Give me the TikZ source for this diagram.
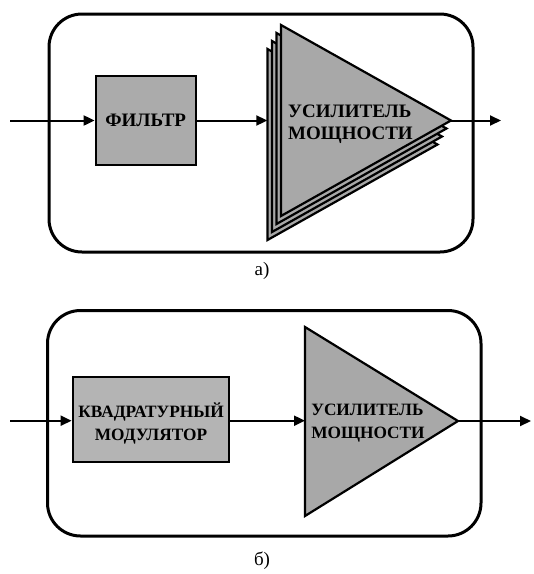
\documentclass[tikz,border=0pt]{standalone}
\usepackage{fontspec}
\setmainfont{Liberation Serif}[BoldFont={Liberation Serif Bold}]
\usetikzlibrary{arrows.meta}
\definecolor{blockgray}{HTML}{ABABAB}
\definecolor{modgray}{HTML}{B4B4B4}
\definecolor{ampgray}{HTML}{A8A8A8}
\begin{document}
\begin{tikzpicture}[x=1pt,y=-1pt,
  frame/.style={line width=3pt, rounded corners=33pt},
  block/.style={draw, line width=2.2pt, inner sep=0pt},
  amp/.style={draw, line width=2.2pt, fill=ampgray, line join=miter},
  sig/.style={line width=2pt, -{Triangle[length=11pt,width=10pt]}},
  lbl/.style={font=\bfseries\fontsize{19}{22.5}\selectfont, align=center, inner sep=0pt},
  lblsmall/.style={font=\bfseries\fontsize{17.3}{23}\selectfont, align=center, inner sep=0pt},
  captext/.style={font=\fontsize{19}{22}\selectfont, inner sep=0pt}]
\useasboundingbox (0,0) rectangle (534,574);

% ---------- variant (a): filter + stacked power amplifiers ----------
\draw[frame] (49,14) rectangle (473,252);
\node[block, fill=blockgray, minimum width=100pt, minimum height=89pt, lbl]
  (filt) at (145.7,120.5) {ФИЛЬТР};
\foreach \k in {3,2,1,0}{
  \path[amp, shift={(-4.5*\k,8*\k)}] (281,25) -- (451,120.5) -- (281,216) -- cycle;
}
\node[lbl, align=left] (amptxtA) at (350.5,124) {УСИЛИТЕЛЬ\\МОЩНОСТИ};
\coordinate (inA) at (10,120.5);
\coordinate (ampinA) at (267.3,120.5);
\coordinate (ampoutA) at (451,120.5);
\coordinate (outA) at (501,120.5);
\draw[sig] (inA) -- (filt.west);
\draw[sig] (filt.east) -- (ampinA);
\draw[sig] (ampoutA) -- (outA);
\node[captext] (capA) at (262,271) {а)};

% ---------- variant (b): quadrature modulator + power amplifier ----------
\draw[frame] (47.5,310.5) rectangle (481,536);
\node[block, fill=modgray, minimum width=156.6pt, minimum height=85pt]
  (mod) at (151,419.2) {};
\node[lblsmall] (modtxt) at (151,423.5) {КВАДРАТУРНЫЙ\\МОДУЛЯТОР};
\path[amp] (305,327) -- (458,421) -- (305,516) -- cycle;
\node[lblsmall, align=left] (amptxtB) at (368,423.5) {УСИЛИТЕЛЬ\\МОЩНОСТИ};
\coordinate (inB) at (10,420.7);
\coordinate (ampinB) at (305,420.7);
\coordinate (ampoutB) at (458,421);
\coordinate (outB) at (531,421);
\draw[sig] (inB) -- (inB -| mod.west);
\draw[sig] (mod.east |- ampinB) -- (ampinB);
\draw[sig] (ampoutB) -- (outB);
\node[captext] (capB) at (262,561) {б)};
\end{tikzpicture}
\end{document}
